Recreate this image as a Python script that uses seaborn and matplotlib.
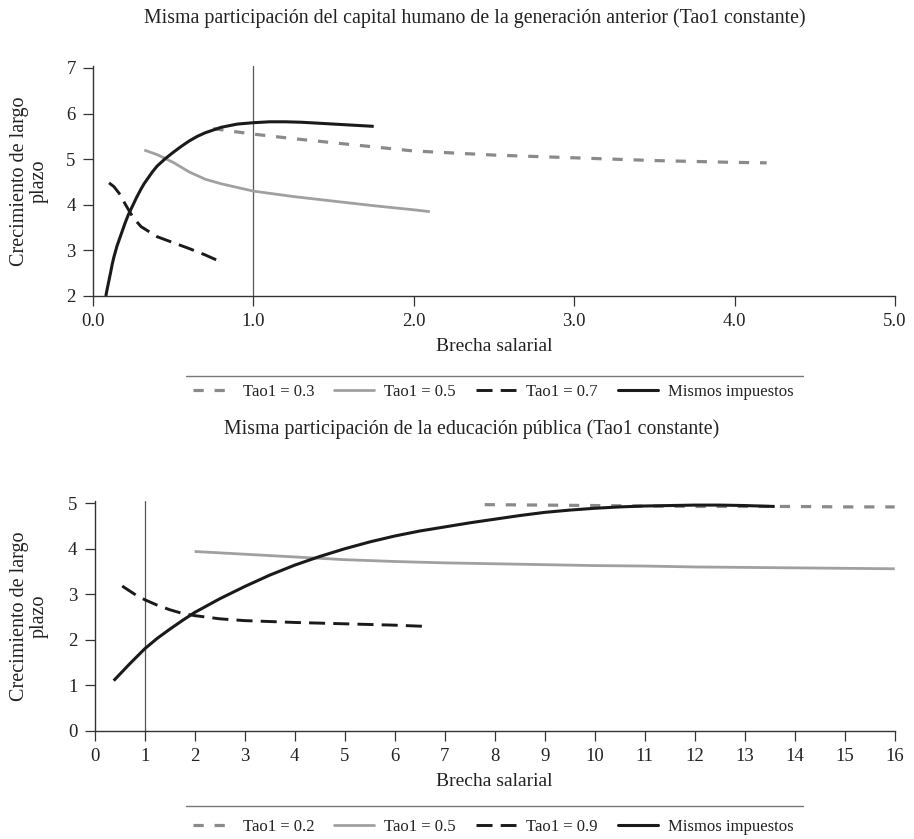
import matplotlib
matplotlib.use("Agg")
import matplotlib.pyplot as plt
import seaborn as sns
import pandas as pd
from matplotlib.lines import Line2D

# ---------------- data ----------------
top_title = "Misma participación del capital humano de la generación anterior (Tao1 constante)"
bot_title = "Misma participación de la educación pública (Tao1 constante)"
ylabel = "Crecimiento de largo\nplazo"
xlabel = "Brecha salarial"

top_xticks = [0, 1, 2, 3, 4, 5]
top_xticklabels = ["0.0", "1.0", "2.0", "3.0", "4.0", "5.0"]
top_yticks = [2, 3, 4, 5, 6, 7]
bot_xticks = list(range(0, 17))
bot_yticks = [0, 1, 2, 3, 4, 5]

top_labels = ["Tao1 = 0.3", "Tao1 = 0.5", "Tao1 = 0.7", "Mismos impuestos"]
bot_labels = ["Tao1 = 0.2", "Tao1 = 0.5", "Tao1 = 0.9", "Mismos impuestos"]

t03_x = [0.75, 0.85, 1.0, 1.25, 1.5, 1.75, 2.0, 2.5, 3.0, 3.5, 4.0, 4.2]
t03_y = [5.67, 5.62, 5.55, 5.45, 5.36, 5.27, 5.18, 5.09, 5.03, 4.97, 4.93, 4.92]
t05_x = [0.32, 0.4, 0.5, 0.6, 0.7, 0.8, 1.0, 1.25, 1.5, 1.75, 2.0, 2.1]
t05_y = [5.2, 5.1, 4.93, 4.72, 4.56, 4.46, 4.3, 4.18, 4.08, 3.98, 3.89, 3.85]
t07_x = [0.1, 0.13, 0.17, 0.2, 0.25, 0.3, 0.4, 0.5, 0.6, 0.7, 0.77]
t07_y = [4.48, 4.40, 4.22, 4.02, 3.72, 3.52, 3.3, 3.17, 3.04, 2.9, 2.79]
tmi_x = [0.08, 0.09, 0.1, 0.11, 0.12, 0.13, 0.15, 0.17, 0.2, 0.22, 0.25, 0.27,
         0.3, 0.32, 0.35, 0.37, 0.4, 0.45, 0.5, 0.55, 0.6, 0.65, 0.7, 0.75,
         0.8, 0.9, 1.0, 1.1, 1.2, 1.3, 1.5, 1.75]
tmi_y = [2.0, 2.18, 2.35, 2.52, 2.7, 2.85, 3.1, 3.3, 3.6, 3.78, 4.0, 4.15,
         4.35, 4.47, 4.62, 4.72, 4.85, 5.01, 5.15, 5.28, 5.4, 5.5, 5.58, 5.64,
         5.7, 5.77, 5.8, 5.82, 5.82, 5.81, 5.77, 5.72]

b02_x = [7.8, 9, 10, 11, 12, 13, 14, 15, 16]
b02_y = [4.97, 4.96, 4.95, 4.94, 4.93, 4.93, 4.93, 4.92, 4.92]
b05_x = [2, 3, 4, 5, 6, 7, 8, 9, 10, 11, 12, 13, 14, 15, 16]
b05_y = [3.94, 3.88, 3.82, 3.76, 3.72, 3.69, 3.67, 3.65, 3.63, 3.62, 3.6,
         3.59, 3.58, 3.57, 3.56]
b09_x = [0.55, 0.8, 1.0, 1.25, 1.5, 1.75, 2.0, 2.5, 3, 4, 5, 6, 6.7]
b09_y = [3.18, 3.0, 2.88, 2.76, 2.66, 2.58, 2.53, 2.46, 2.42, 2.38, 2.35,
         2.32, 2.29]
bmi_x = [0.38, 0.7, 1, 1.25, 1.5, 1.75, 2, 2.5, 3, 3.5, 4, 4.5, 5, 5.5, 6,
         6.5, 7, 7.5, 8, 8.5, 9, 9.5, 10, 10.5, 11, 11.5, 12, 12.5, 13, 13.6]
bmi_y = [1.1, 1.47, 1.8, 2.03, 2.23, 2.42, 2.6, 2.9, 3.17, 3.42, 3.64, 3.83,
         4.0, 4.15, 4.28, 4.39, 4.48, 4.57, 4.65, 4.73, 4.8, 4.85, 4.89, 4.92,
         4.94, 4.95, 4.96, 4.96, 4.95, 4.93]

# ---------------- style ----------------
sns.set_theme(style="ticks")
plt.rcParams["font.family"] = ["Liberation Serif", "DejaVu Serif"]
plt.rcParams["text.color"] = "#222222"
plt.rcParams["axes.labelcolor"] = "#222222"

GRAY_D = "#8a8a8a"
GRAY_S = "#a0a0a0"
BLACK = "#1a1a1a"
styles = [
    dict(color=GRAY_D, lw=2.3, dashes=(3.2, 3.4)),
    dict(color=GRAY_S, lw=2.0, dashes=()),
    dict(color=BLACK, lw=2.1, dashes=(5.5, 2.8)),
    dict(color=BLACK, lw=2.2, dashes=()),
]

fig = plt.figure(figsize=(9.14, 8.39), dpi=100)
W, H = 914, 839


def axes_px(left, right, top, bottom):
    return fig.add_axes([left / W, 1 - bottom / H, (right - left) / W, (bottom - top) / H])


ax1 = axes_px(93, 895, 65.7, 296)
ax2 = axes_px(94.7, 894.7, 501, 730.7)


def draw(ax, series):
    for (xs, ys), st in zip(series, styles):
        df = pd.DataFrame({"x": xs, "y": ys})
        sns.lineplot(data=df, x="x", y="y", ax=ax, color=st["color"], lw=st["lw"],
                     sort=False, estimator=None, legend=False)
        line = ax.lines[-1]
        if st["dashes"]:
            line.set_dashes(st["dashes"])
        line.set_solid_capstyle("butt")
        line.set_dash_capstyle("butt")
        line.set_solid_joinstyle("round")


draw(ax1, [(t03_x, t03_y), (t05_x, t05_y), (t07_x, t07_y), (tmi_x, tmi_y)])
draw(ax2, [(b02_x, b02_y), (b05_x, b05_y), (b09_x, b09_y), (bmi_x, bmi_y)])

ax1.axvline(1.0, color="#555555", lw=0.9, zorder=1)
ax2.axvline(1.0, color="#555555", lw=0.9, zorder=1)

ax1.set_xlim(0, 5)
ax1.set_ylim(2, 7.05)
ax1.set_xticks(top_xticks)
ax1.set_xticklabels(top_xticklabels)
ax1.set_yticks(top_yticks)

ax2.set_xlim(0, 16)
ax2.set_ylim(0, 5.05)
ax2.set_xticks(bot_xticks)
ax2.set_yticks(bot_yticks)

for ax, lx in ((ax1, (49 - 93) / 802), (ax2, (49 - 94.7) / 800)):
    sns.despine(ax=ax)
    for s in ("left", "bottom"):
        ax.spines[s].set_color("#333333")
        ax.spines[s].set_linewidth(1.0)
    ax.tick_params(axis="both", direction="out", length=7, width=0.9,
                   color="#333333", labelsize=13.5, labelcolor="#222222", pad=5.5)
    ax.set_xlabel(xlabel, fontsize=14, labelpad=5.5)
    ax.set_ylabel(ylabel, fontsize=14.5, linespacing=1.05)
    ax.yaxis.set_label_coords(lx, 0.5)

fig.text(475 / W, 1 - 18 / H, top_title, ha="center", va="center", fontsize=14.3)
fig.text(472 / W, 1 - 429 / H, bot_title, ha="center", va="center", fontsize=14.3)

# separators
for yy in (376, 806):
    fig.add_artist(Line2D([186 / W, 803 / W], [1 - yy / H, 1 - yy / H],
                          color="#777777", lw=1.0, transform=fig.transFigure))


def make_legend(labels, ycenter):
    handles = []
    for st in styles:
        h = Line2D([], [], color=st["color"], lw=st["lw"])
        if st["dashes"]:
            h.set_dashes(st["dashes"])
        handles.append(h)
    fig.legend(handles, labels, loc="center", bbox_to_anchor=(493 / W, 1 - ycenter / H),
               ncol=4, frameon=False, fontsize=12, handlelength=2.4,
               handletextpad=0.6, columnspacing=1.2)


make_legend(top_labels, 392)
make_legend(bot_labels, 827)

fig.savefig("out.png", dpi=100)
